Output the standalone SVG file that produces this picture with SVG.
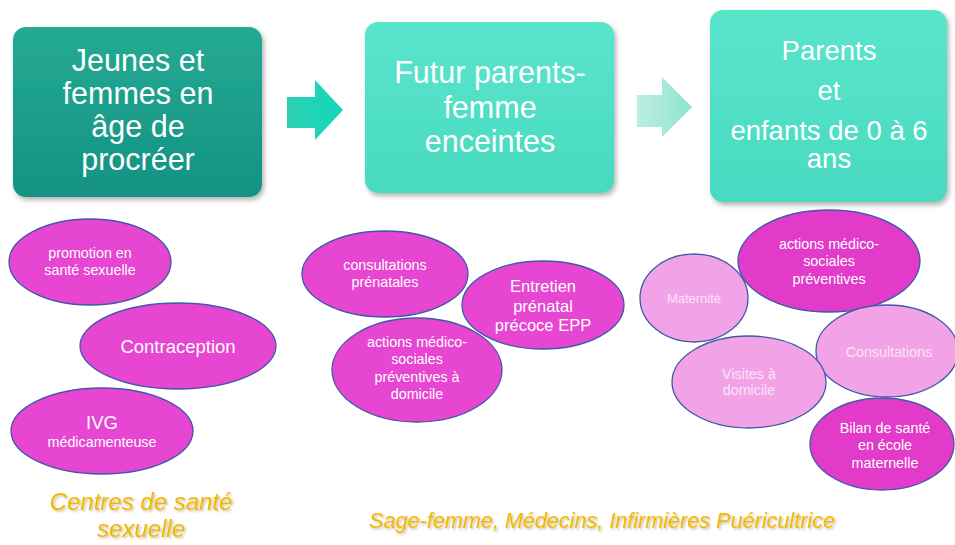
<svg xmlns="http://www.w3.org/2000/svg" width="955" height="545" viewBox="0 0 955 545">
<defs>
<linearGradient id="g1" x1="0" y1="0" x2="0" y2="1"><stop offset="0" stop-color="#25aa93"/><stop offset="1" stop-color="#139282"/></linearGradient>
<linearGradient id="g2" x1="0" y1="0" x2="0" y2="1"><stop offset="0" stop-color="#5ae5cb"/><stop offset="1" stop-color="#48dac0"/></linearGradient>
<linearGradient id="ga1" x1="0" y1="0" x2="1" y2="0"><stop offset="0" stop-color="#2dcfb0"/><stop offset="1" stop-color="#12d8bc"/></linearGradient>
<linearGradient id="ga2" x1="0" y1="0" x2="1" y2="0"><stop offset="0" stop-color="#bdeee2"/><stop offset="1" stop-color="#8ee3cf"/></linearGradient>
<filter id="sh" x="-10%" y="-10%" width="125%" height="125%"><feDropShadow dx="2" dy="3" stdDeviation="2.5" flood-color="#000" flood-opacity="0.3"/></filter>
<filter id="tsh"><feDropShadow dx="1.5" dy="1.5" stdDeviation="0.8" flood-color="#7a6a30" flood-opacity="0.45"/></filter>
<style>
.bt{font-family:"Liberation Sans",Arial,sans-serif;fill:#ffffff;text-anchor:middle}
.et{font-family:"Liberation Sans",Arial,sans-serif;fill:#ffffff;text-anchor:middle;font-size:14.3px}
.ell{fill:#e646d2;stroke:#3d5aa3;stroke-width:1.3}
.ell2{fill:#e23bc9;stroke:#3d5aa3;stroke-width:1.3}
.lt{fill:#f2a3e8;stroke:#3d5aa3;stroke-width:1.3}
.ltt{fill:#fbe3f7}
.cap{font-family:"Liberation Sans",Arial,sans-serif;font-style:italic;fill:#f5b800}
</style>
</defs>
<rect width="955" height="545" fill="#ffffff"/>

<g id="box1">
<rect x="13" y="27" width="249" height="170" rx="13" fill="url(#g1)" filter="url(#sh)"/>
<text class="bt" font-size="30.5"><tspan x="138" y="71">Jeunes et</tspan><tspan x="138" y="104">femmes en</tspan><tspan x="138" y="137">âge de</tspan><tspan x="138" y="170">procréer</tspan></text>
</g>
<g id="box2">
<rect x="365" y="22" width="249" height="171" rx="13" fill="url(#g2)" filter="url(#sh)"/>
<text class="bt" font-size="30.5"><tspan x="490" y="83">Futur parents-</tspan><tspan x="490" y="118">femme</tspan><tspan x="490" y="152">enceintes</tspan></text>
</g>
<g id="box3">
<rect x="710" y="10" width="237" height="192" rx="13" fill="url(#g2)" filter="url(#sh)"/>
<text class="bt" font-size="27.5"><tspan x="829" y="60">Parents</tspan><tspan x="829" y="100">et</tspan><tspan x="829" y="140">enfants de 0 à 6</tspan><tspan x="829" y="168">ans</tspan></text>
</g>

<g id="connectors">
<path d="M287,97 H315 V80 L343,110 L315,140 V128 H287 Z" fill="url(#ga1)"/>
<path d="M637,95 H662 V77 L692,107 L662,137 V127 H637 Z" fill="url(#ga2)"/>
</g>

<g id="e-promotion">
<ellipse class="ell" cx="90" cy="262" rx="81" ry="43"/>
<text class="et"><tspan x="90" y="258">promotion en</tspan><tspan x="90" y="275">santé sexuelle</tspan></text>
</g>
<g id="e-contraception">
<ellipse class="ell" cx="178" cy="346" rx="98" ry="43"/>
<text class="et" style="font-size:18.5px"><tspan x="178" y="353">Contraception</tspan></text>
</g>
<g id="e-ivg">
<ellipse class="ell" cx="102" cy="431" rx="91" ry="43"/>
<text class="et"><tspan x="102" y="429" style="font-size:18.5px">IVG</tspan><tspan x="102" y="447">médicamenteuse</tspan></text>
</g>

<g id="e-consultations-prenatales">
<ellipse class="ell" cx="385" cy="274" rx="83" ry="43"/>
<text class="et"><tspan x="385" y="270">consultations</tspan><tspan x="385" y="287">prénatales</tspan></text>
</g>
<g id="e-entretien">
<ellipse class="ell" cx="543" cy="305" rx="81" ry="44"/>
<text class="et" style="font-size:16.5px"><tspan x="543" y="292">Entretien</tspan><tspan x="543" y="312">prénatal</tspan><tspan x="543" y="331">précoce EPP</tspan></text>
</g>
<g id="e-actions-domicile">
<ellipse class="ell" cx="417" cy="370" rx="85" ry="52"/>
<text class="et"><tspan x="417" y="347">actions médico-</tspan><tspan x="417" y="364">sociales</tspan><tspan x="417" y="382">préventives à</tspan><tspan x="417" y="399">domicile</tspan></text>
</g>

<g id="e-actions-preventives">
<ellipse class="ell2" cx="829" cy="261" rx="91" ry="51"/>
<text class="et"><tspan x="829" y="249">actions médico-</tspan><tspan x="829" y="266">sociales</tspan><tspan x="829" y="284">préventives</tspan></text>
</g>
<g id="e-maternite">
<ellipse class="lt" cx="694" cy="298" rx="54" ry="44"/>
<text class="et ltt" style="font-size:13px"><tspan x="694" y="303">Maternité</tspan></text>
</g>
<g id="e-consultations">
<ellipse class="lt" cx="887" cy="351" rx="71" ry="46"/>
<text class="et ltt"><tspan x="889" y="357">Consultations</tspan></text>
</g>
<g id="e-visites">
<ellipse class="lt" cx="749" cy="382" rx="77" ry="46"/>
<text class="et ltt"><tspan x="749" y="379">Visites à</tspan><tspan x="749" y="395">domicile</tspan></text>
</g>
<g id="e-bilan">
<ellipse class="ell2" cx="882" cy="444" rx="72" ry="46"/>
<text class="et"><tspan x="885" y="433">Bilan de santé</tspan><tspan x="885" y="450">en école</tspan><tspan x="885" y="468">maternelle</tspan></text>
</g>

<g id="captions" filter="url(#tsh)">
<text class="cap" text-anchor="middle" font-size="24"><tspan x="141" y="510">Centres de santé</tspan><tspan x="141" y="537">sexuelle</tspan></text>
<text class="cap" font-size="22" x="369" y="528" textLength="466" lengthAdjust="spacingAndGlyphs">Sage-femme, Médecins, Infirmières Puéricultrice</text>
</g>
</svg>
